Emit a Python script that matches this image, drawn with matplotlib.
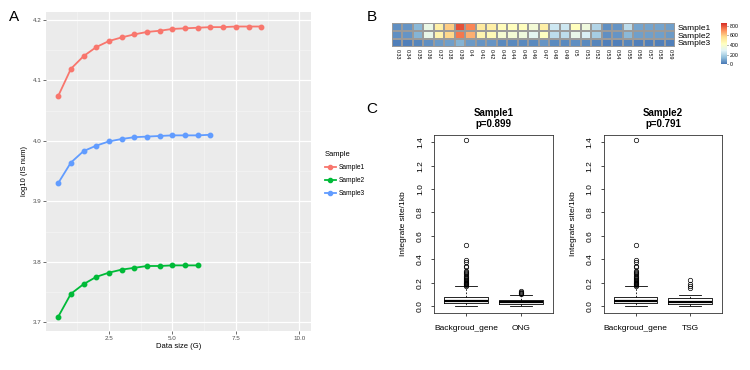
import numpy as np
import matplotlib
matplotlib.use("Agg")
import matplotlib.pyplot as plt
from matplotlib.colors import LinearSegmentedColormap
from matplotlib.lines import Line2D

plt.rcParams['font.family'] = ['Liberation Sans', 'DejaVu Sans']

# ---------------- Data ----------------
# Panel A
sample_names = ["Sample1", "Sample2", "Sample3"]
sample_colors = ["#F8766D", "#00BA38", "#619CFF"]
x_s1 = [0.5, 1.0, 1.5, 2.0, 2.5, 3.0, 3.5, 4.0, 4.5, 5.0, 5.5, 6.0, 6.5, 7.0, 7.5, 8.0, 8.5]
y_s1 = [4.074, 4.119, 4.140, 4.155, 4.165, 4.171, 4.176, 4.180, 4.182, 4.185, 4.186,
        4.187, 4.188, 4.188, 4.189, 4.189, 4.189]
x_s2 = [0.5, 1.0, 1.5, 2.0, 2.5, 3.0, 3.5, 4.0, 4.5, 5.0, 5.5, 6.0]
y_s2 = [3.709, 3.747, 3.763, 3.775, 3.782, 3.787, 3.790, 3.793, 3.793, 3.794, 3.794, 3.794]
x_s3 = [0.5, 1.0, 1.5, 2.0, 2.5, 3.0, 3.5, 4.0, 4.5, 5.0, 5.5, 6.0, 6.5]
y_s3 = [3.930, 3.964, 3.983, 3.992, 3.999, 4.003, 4.006, 4.007, 4.008, 4.009, 4.009, 4.009, 4.010]

# Panel B
heat_cols = ["0.33", "0.34", "0.35", "0.36", "0.37", "0.38", "0.39", "0.4", "0.41", "0.42",
             "0.43", "0.44", "0.45", "0.46", "0.47", "0.48", "0.49", "0.5", "0.51", "0.52",
             "0.53", "0.54", "0.55", "0.56", "0.57", "0.58", "0.59"]
heat_s1 = [50, 60, 130, 330, 500, 600, 800, 720, 520, 500, 440, 430, 430, 370, 500, 250,
           250, 430, 350, 200, 50, 60, 220, 90, 90, 90, 80]
heat_s2 = [50, 60, 120, 320, 480, 580, 740, 650, 470, 450, 380, 370, 350, 300, 420, 220,
           220, 320, 270, 180, 50, 60, 130, 80, 80, 80, 70]
heat_s3 = [20, 20, 30, 50, 70, 80, 120, 70, 60, 60, 40, 40, 40, 40, 60, 40,
           40, 50, 40, 30, 20, 20, 30, 20, 20, 20, 20]
heat_ticks = [0, 200, 400, 600, 800]

# Panel C
box_labels_1 = ["Backgroud_gene", "ONG"]
box_labels_2 = ["Backgroud_gene", "TSG"]
bg_stats = [0.003, 0.023, 0.043, 0.080, 0.171]   # whislo, q1, med, q3, whishi
bg_fliers = [0.175, 0.18, 0.185, 0.19, 0.195, 0.20, 0.205, 0.21, 0.22, 0.23, 0.24, 0.25,
             0.26, 0.27, 0.28, 0.29, 0.30, 0.33, 0.34, 0.38, 0.39, 0.52, 1.42]
ong_stats = [0.002, 0.017, 0.033, 0.049, 0.094]
ong_fliers = [0.105, 0.11, 0.115, 0.12, 0.13]
tsg_stats = [0.003, 0.017, 0.037, 0.066, 0.097]
tsg_fliers = [0.15, 0.17, 0.19, 0.22]
titles_c = ["Sample1\np=0.899", "Sample2\np=0.791"]
y_ticks_c = [0.0, 0.2, 0.4, 0.6, 0.8, 1.0, 1.2, 1.4]

# ---------------- Figure ----------------
W, H = 750, 370
fig = plt.figure(figsize=(7.5, 3.7), dpi=100)


def fx(px):
    return px / W


def fy(py):
    return 1 - py / H


# ---- Panel A ----
axA = fig.add_axes([fx(46), fy(330.7), fx(311 - 46), (330.7 - 12) / H])
axA.set_facecolor("#EBEBEB")
for s in axA.spines.values():
    s.set_visible(False)
axA.set_xlim(0.02, 10.46)
axA.set_ylim(3.686, 4.213)
axA.set_xticks([2.5, 5.0, 7.5, 10.0])
axA.set_xticklabels(["2.5", "5.0", "7.5", "10.0"])
axA.set_yticks([3.7, 3.8, 3.9, 4.0, 4.1, 4.2])
axA.set_yticklabels(["3.7", "3.8", "3.9", "4.0", "4.1", "4.2"])
axA.set_xticks([1.25, 3.75, 6.25, 8.75], minor=True)
axA.set_yticks([3.75, 3.85, 3.95, 4.05, 4.15], minor=True)
axA.grid(True, which="major", color="white", linewidth=0.9)
axA.grid(True, which="minor", color="#F5F5F5", linewidth=0.5)
axA.set_axisbelow(True)
axA.tick_params(which="major", labelsize=4.5, labelcolor="#4D4D4D", color="#333333",
                length=2, width=0.5, pad=1.5)
axA.tick_params(which="minor", length=0)
for xs, ys, c, n in [(x_s1, y_s1, sample_colors[0], sample_names[0]),
                     (x_s2, y_s2, sample_colors[1], sample_names[1]),
                     (x_s3, y_s3, sample_colors[2], sample_names[2])]:
    axA.plot(xs, ys, color=c, linewidth=1.3, marker="o", markersize=3.2, label=n)
axA.set_xlabel("Data size (G)", fontsize=5.5, labelpad=2)
axA.set_ylabel("log10 (IS num)", fontsize=5.5, labelpad=3)

handles = [Line2D([0], [0], color=c, linewidth=1.3, marker="o", markersize=3)
           for c in sample_colors]
leg = fig.legend(handles, sample_names, loc="upper left",
                 bbox_to_anchor=(fx(319), fy(145)), frameon=False, title="Sample",
                 fontsize=4.8, title_fontsize=5.5, handlelength=1.6, labelspacing=0.9,
                 handletextpad=0.4)
leg._legend_box.align = "left"

fig.text(fx(14), fy(17), "A", fontsize=11, ha="center", va="center")

# ---- Panel B ----
cmap = LinearSegmentedColormap.from_list(
    "rdylbu", ["#4575B4", "#91BFDB", "#E0F3F8", "#FFFFBF", "#FEE090", "#FC8D59", "#D73027"])
axB = fig.add_axes([fx(392), fy(46.7), fx(675 - 392), (46.7 - 23.3) / H])
heat = np.array([heat_s1, heat_s2, heat_s3])
mesh = axB.pcolormesh(heat, cmap=cmap, vmin=0, vmax=850, edgecolors="#9a9a9a",
                      linewidth=0.3)
axB.set_ylim(3, 0)
axB.set_xlim(0, len(heat_cols))
for s in axB.spines.values():
    s.set_visible(False)
axB.set_xticks(np.arange(len(heat_cols)) + 0.5)
axB.set_xticklabels(heat_cols, rotation=-90, fontsize=3.8)
axB.yaxis.tick_right()
axB.set_yticks([0.5, 1.5, 2.5])
axB.set_yticklabels(sample_names, fontsize=6)
axB.tick_params(length=0, pad=2)

cax = fig.add_axes([fx(720.7), fy(64.3), fx(6), (64.3 - 23.3) / H])
cb = fig.colorbar(mesh, cax=cax, ticks=heat_ticks)
cb.outline.set_visible(False)
cb.ax.tick_params(labelsize=3.8, length=1, width=0.4, pad=1)

fig.text(fx(372), fy(17), "B", fontsize=11, ha="center", va="center")

# ---- Panel C ----
def make_stats(vals, fliers, label):
    return dict(whislo=vals[0], q1=vals[1], med=vals[2], q3=vals[3], whishi=vals[4],
                fliers=fliers, label=label)


box_sets = [
    [make_stats(bg_stats, bg_fliers, box_labels_1[0]),
     make_stats(ong_stats, ong_fliers, box_labels_1[1])],
    [make_stats(bg_stats, bg_fliers, box_labels_2[0]),
     make_stats(tsg_stats, tsg_fliers, box_labels_2[1])],
]
lefts = [434.3, 604.0]
rights = [552.7, 721.7]
for i in range(2):
    ax = fig.add_axes([fx(lefts[i]), fy(312.7), fx(rights[i] - lefts[i]), (312.7 - 135) / H])
    ax.bxp(box_sets[i], positions=[1, 2], widths=0.8, patch_artist=False,
           boxprops=dict(color="black", linewidth=0.6),
           whiskerprops=dict(color="black", linewidth=0.6, linestyle=(0, (2, 2))),
           capprops=dict(color="black", linewidth=0.6),
           medianprops=dict(color="black", linewidth=1.6),
           flierprops=dict(marker="o", markersize=3.2, markerfacecolor="none",
                           markeredgecolor="black", markeredgewidth=0.5))
    ax.set_xlim(0.42, 2.58)
    ax.set_ylim(-0.057, 1.462)
    ax.set_yticks(y_ticks_c)
    ax.set_yticklabels(["%.1f" % v for v in y_ticks_c], rotation=90, va="center")
    ax.tick_params(labelsize=6, length=2.5, width=0.5, colors="black")
    ax.tick_params(axis="y", pad=5)
    ax.tick_params(axis="x", pad=6)
    for s in ax.spines.values():
        s.set_linewidth(0.6)
        s.set_color("#333333")
    ax.set_ylabel("Integrate site/1kb", fontsize=6, labelpad=7)
    ax.set_title(titles_c[i], fontsize=7, fontweight="bold", pad=6, linespacing=1.1)

fig.text(fx(372), fy(109), "C", fontsize=11, ha="center", va="center")

fig.savefig("out.png", dpi=100, facecolor="white")
